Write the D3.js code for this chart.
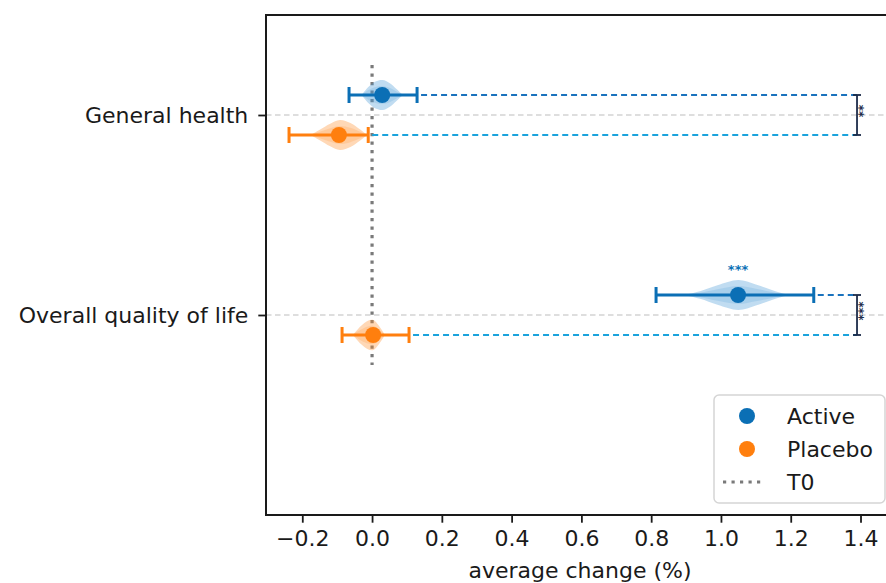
<!DOCTYPE html>
<html>
<head>
<meta charset="utf-8">
<script src="https://cdn.jsdelivr.net/npm/d3@7"></script>
<style>
  body { margin: 0; background: #fff; }
  text { font-family: "DejaVu Sans", sans-serif; fill: #1a1a1a; }
</style>
</head>
<body>
<svg id="chart" width="886" height="583"></svg>
<script>
// categories and groups
var outcomes = ["General health", "Overall quality of life"];
var groups = ["Active", "Placebo"];

// mean change and error bar ends, one row per outcome, [Active, Placebo]
var means = [[0.029, -0.095], [1.049, 0.003]];
var lows = [[-0.066, -0.238], [0.814, -0.086]];
var highs = [[0.129, -0.011], [1.266, 0.106]];

// violin outlines: positions and relative density
var violinX = [
    [[-0.03, -0.01, 0.01, 0.03, 0.05, 0.07, 0.088], [-0.176, -0.15, -0.12, -0.092, -0.062, -0.036, -0.014]],
    [[0.892, 0.94, 0.99, 1.05, 1.10, 1.15, 1.195], [-0.055, -0.032, -0.012, 0.004, 0.02, 0.037]]
];
var violinD = [
    [[0, 0.55, 0.9, 1.0, 0.8, 0.4, 0], [0, 0.35, 0.75, 1.0, 0.8, 0.4, 0]],
    [[0, 0.25, 0.65, 1.0, 0.7, 0.3, 0], [0, 0.6, 0.95, 1.0, 0.6, 0]]
];

// significance annotations
var bracketAt = 1.39;
var bracketStars = ["**", "***"];
var withinStars = [["", ""], ["***", ""]];

var xTicks = [-0.2, 0.0, 0.2, 0.4, 0.6, 0.8, 1.0, 1.2, 1.4];

var colors = { Active: "#0b6fb5", Placebo: "#ff7f0e" };
var violinFill = { Active: "#4a9ad6", Placebo: "#ff8f2e" };
var dashColors = { Active: "#1a72bd", Placebo: "#1aa3dc" };

var svg = d3.select("#chart"),
    box = { left: 266, top: 15, right: 894, bottom: 515 };

var x = d3.scaleLinear().domain([-0.304, 1.496]).range([box.left, box.right]);
var y = d3.scaleLinear().domain([-0.5, 2.0]).range([box.top, box.bottom]);
var offset = { Active: -0.1, Placebo: 0.1 };
var violinH = 15;

// grid lines at each outcome
svg.append("g").selectAll("line")
    .data(outcomes)
    .enter().append("line")
    .attr("x1", box.left).attr("x2", box.right)
    .attr("y1", function (d, i) { return y(i); })
    .attr("y2", function (d, i) { return y(i); })
    .attr("stroke", "#d3d3d3")
    .attr("stroke-width", 1.5)
    .attr("stroke-dasharray", "5.5,3.5");

// T0 reference line
svg.append("line")
    .attr("x1", x(0)).attr("x2", x(0))
    .attr("y1", y(-0.25)).attr("y2", y(1.25))
    .attr("stroke", "#7a7a7a")
    .attr("stroke-width", 3.2)
    .attr("stroke-dasharray", "3.2,5.3");

var area = d3.area().curve(d3.curveCatmullRom)
    .x(function (d) { return x(d[0]); });

outcomes.forEach(function (o, i) {
    groups.forEach(function (gname, j) {
        var yc = y(i + offset[gname]);
        var pts = violinX[i][j].map(function (v, k) { return [v, violinD[i][j][k]]; });

        // violin body plus a darker core
        [[1, 0.35], [0.6, 0.2]].forEach(function (layer) {
            svg.append("path")
                .datum(pts)
                .attr("d", area
                    .y0(function (d) { return yc - d[1] * violinH * layer[0]; })
                    .y1(function (d) { return yc + d[1] * violinH * layer[0]; }))
                .attr("fill", violinFill[gname])
                .attr("fill-opacity", layer[1]);
        });

        // dashed line from error bar to bracket
        svg.append("line")
            .attr("x1", x(highs[i][j]) + 4).attr("x2", x(bracketAt))
            .attr("y1", yc).attr("y2", yc)
            .attr("stroke", dashColors[gname])
            .attr("stroke-width", 2)
            .attr("stroke-dasharray", "6,4");

        // error bar
        var eb = svg.append("g").attr("stroke", colors[gname]).attr("stroke-width", 3);
        eb.append("line")
            .attr("x1", x(lows[i][j])).attr("x2", x(highs[i][j]))
            .attr("y1", yc).attr("y2", yc);
        [lows[i][j], highs[i][j]].forEach(function (v) {
            eb.append("line")
                .attr("x1", x(v)).attr("x2", x(v))
                .attr("y1", yc - 8).attr("y2", yc + 8);
        });

        svg.append("circle")
            .attr("cx", x(means[i][j])).attr("cy", yc)
            .attr("r", 8)
            .attr("fill", colors[gname]);

        if (withinStars[i][j]) {
            svg.append("text")
                .attr("x", x(means[i][j])).attr("y", yc - 21)
                .attr("text-anchor", "middle")
                .style("font-size", "13px")
                .style("font-weight", "bold")
                .style("fill", colors[gname])
                .text(withinStars[i][j]);
        }
    });

    // between-group bracket
    var bx = x(bracketAt), y1 = y(i + offset.Active), y2 = y(i + offset.Placebo);
    var br = svg.append("g").attr("stroke", "#1c2b49").attr("stroke-width", 1.8);
    br.append("line").attr("x1", bx).attr("x2", bx).attr("y1", y1).attr("y2", y2);
    br.append("line").attr("x1", bx - 4).attr("x2", bx + 4).attr("y1", y1).attr("y2", y1);
    br.append("line").attr("x1", bx - 4).attr("x2", bx + 4).attr("y1", y2).attr("y2", y2);
    svg.append("text")
        .attr("transform", "translate(" + (bx - 2) + "," + (y(i) - 4) + ") rotate(90)")
        .attr("text-anchor", "middle")
        .style("font-size", "12px")
        .style("font-weight", "bold")
        .style("fill", "#1c2b49")
        .text(bracketStars[i]);
});

// axes
svg.append("g")
    .attr("transform", "translate(0," + box.bottom + ")")
    .call(d3.axisBottom(x).tickValues(xTicks).tickFormat(d3.format(".1f"))
        .tickSize(7.7).tickPadding(7.7).tickSizeOuter(0))
    .call(function (g) {
        g.select(".domain").remove();
        g.selectAll("line").attr("stroke", "#1a1a1a").attr("stroke-width", 1.8);
        g.selectAll("text").style("font-size", "22px").attr("font-family", null);
    });

svg.append("g")
    .attr("transform", "translate(" + box.left + ",0)")
    .call(d3.axisLeft(y).tickValues([0, 1]).tickFormat(function (d) { return outcomes[d]; })
        .tickSize(7.7).tickPadding(10).tickSizeOuter(0))
    .call(function (g) {
        g.select(".domain").remove();
        g.selectAll("line").attr("stroke", "#1a1a1a").attr("stroke-width", 1.8);
        g.selectAll("text").style("font-size", "22px").attr("font-family", null);
    });

// frame
svg.append("rect")
    .attr("x", box.left).attr("y", box.top)
    .attr("width", box.right - box.left).attr("height", box.bottom - box.top)
    .attr("fill", "none")
    .attr("stroke", "#1a1a1a")
    .attr("stroke-width", 2);

svg.append("text")
    .attr("x", (box.left + box.right) / 2)
    .attr("y", 578)
    .attr("text-anchor", "middle")
    .style("font-size", "22px")
    .text("average change (%)");

// legend
var lg = svg.append("g");
lg.append("rect")
    .attr("x", 714).attr("y", 395)
    .attr("width", 171).attr("height", 108)
    .attr("rx", 5)
    .attr("fill", "#fff").attr("fill-opacity", 0.8)
    .attr("stroke", "#d5d5d5").attr("stroke-width", 1.5);
groups.forEach(function (gname, k) {
    lg.append("circle")
        .attr("cx", 747).attr("cy", 416 + k * 33)
        .attr("r", 8)
        .attr("fill", colors[gname]);
    lg.append("text")
        .attr("x", 787).attr("y", 416 + k * 33)
        .attr("dy", "0.35em")
        .style("font-size", "22px")
        .text(gname);
});
lg.append("line")
    .attr("x1", 723).attr("x2", 765)
    .attr("y1", 482).attr("y2", 482)
    .attr("stroke", "#7a7a7a")
    .attr("stroke-width", 3.2)
    .attr("stroke-dasharray", "3.2,5.3");
lg.append("text")
    .attr("x", 787).attr("y", 482)
    .attr("dy", "0.35em")
    .style("font-size", "22px")
    .text("T0");
</script>
</body>
</html>
